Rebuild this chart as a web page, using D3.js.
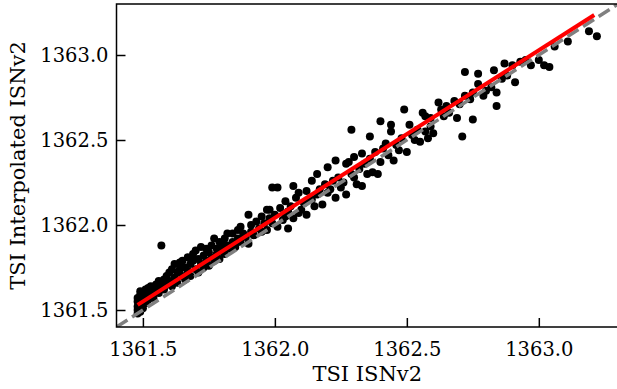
<!DOCTYPE html>
<html>
<head>
<meta charset="utf-8">
<script src="https://cdn.jsdelivr.net/npm/d3@7"></script>
<style>
    body { margin: 0; background: #fff; }
    svg text { font-family: "DejaVu Serif", serif; fill: #000; }
</style>
</head>
<body>
<div id="chart"></div>
<script>

// TSI ISNv2 vs interpolated
var tsiIsn = [
    1361.48,1361.48,1361.48,1361.48,1361.48,1361.49,1361.49,1361.49,1361.49,1361.50,1361.50,1361.50,1361.51,1361.51,1361.51,1361.52,1361.52,1361.52,1361.53,1361.53,
    1361.54,1361.54,1361.55,1361.55,1361.56,1361.56,1361.57,1361.57,1361.58,1361.58,1361.59,1361.59,1361.60,1361.60,1361.61,1361.61,1361.62,1361.62,
    1361.63,1361.63,1361.64,1361.64,1361.65,1361.65,1361.66,1361.66,1361.67,1361.67,1361.68,1361.68,1361.69,1361.69,1361.70,1361.70,1361.71,1361.71,
    1361.72,1361.72,1361.73,1361.73,1361.74,1361.74,1361.75,1361.75,1361.76,1361.76,1361.77,1361.77,1361.78,1361.78,1361.79,1361.79,1361.80,1361.80,
    1361.81,1361.81,1361.82,1361.82,1361.83,1361.84,1361.84,1361.85,1361.86,1361.86,1361.87,1361.87,1361.88,1361.89,1361.90,1361.90,1361.91,1361.91,
    1361.92,1361.93,1361.94,1361.95,1361.95,1361.96,1361.97,1361.97,1361.98,1361.98,1361.99,1361.99,
    1362.00,1362.01,1362.01,1362.02,1362.03,1362.04,1362.04,1362.05,1362.05,1362.06,1362.07,1362.07,1362.08,1362.09,1362.09,1362.10,1362.11,1362.12,
    1362.12,1362.13,1362.14,1362.14,1362.15,1362.16,1362.16,1362.17,1362.18,1362.19,1362.20,1362.20,1362.21,1362.22,1362.23,1362.23,1362.24,1362.25,
    1362.26,1362.27,1362.27,1362.28,1362.29,1362.29,1362.30,1362.30,
    1362.31,1362.32,1362.33,1362.33,1362.34,1362.35,1362.36,1362.36,1362.37,1362.38,1362.39,1362.40,1362.40,1362.41,1362.42,1362.43,1362.44,1362.44,
    1362.45,1362.46,1362.47,1362.48,1362.49,1362.50,1362.51,1362.52,1362.53,1362.54,1362.55,1362.56,1362.57,1362.57,1362.58,1362.59,1362.59,1362.60,
    1362.62,1362.63,1362.64,1362.65,1362.66,1362.68,1362.69,1362.70,1362.71,1362.72,1362.72,1362.74,1362.75,1362.75,1362.77,1362.77,1362.79,1362.80,
    1362.82,1362.83,1362.84,1362.84,1362.86,1362.87,1362.88,1362.90,1362.91,
    1362.93,1362.95,1362.97,1363.00,1363.02,1363.04,1363.06,1363.11,1363.19,1363.22
];
var tsiInterp = [
    1361.48,1361.50,1361.52,1361.55,1361.57,1361.49,1361.53,1361.59,1361.61,1361.51,1361.56,1361.60,1361.54,1361.58,1361.62,1361.56,1361.60,1361.63,1361.58,1361.64,
    1361.61,1361.57,1361.65,1361.62,1361.60,1361.67,1361.64,1361.88,1361.68,1361.62,1361.70,1361.65,1361.72,1361.67,1361.64,1361.74,1361.69,1361.77,
    1361.72,1361.66,1361.78,1361.74,1361.70,1361.79,1361.75,1361.68,1361.81,1361.73,1361.77,1361.70,1361.83,1361.79,1361.74,1361.85,1361.80,1361.72,
    1361.87,1361.77,1361.82,1361.75,1361.86,1361.79,1361.84,1361.76,1361.88,1361.81,1361.92,1361.79,1361.86,1361.83,1361.90,1361.80,1361.89,1361.85,
    1361.83,1361.92,1361.88,1361.95,1361.86,1361.95,1361.90,1361.87,1361.97,1361.92,1361.99,1361.90,1361.95,1361.93,1362.06,1361.89,1362.00,1361.96,
    1361.94,1362.02,1361.98,1362.05,1361.96,1362.01,1362.09,1361.97,1362.04,1362.09,1362.22,1362.01,
    1362.06,1361.99,1362.22,1362.10,1362.03,1362.05,1362.14,1361.98,1362.08,1362.11,1362.23,1362.04,1362.16,1362.19,1362.07,1362.09,1362.13,1362.20,
    1362.06,1362.15,1362.26,1362.15,1362.11,1362.30,1362.18,1362.21,1362.12,1362.24,1362.34,1362.19,1362.21,1362.26,1362.38,1362.16,1362.28,1362.22,
    1362.25,1362.18,1362.36,1362.37,1362.56,1362.30,1362.28,1362.40,
    1362.24,1362.33,1362.42,1362.23,1362.36,1362.30,1362.52,1362.39,1362.31,1362.43,1362.30,1362.61,1362.37,1362.45,1362.48,1362.41,1362.59,1362.55,
    1362.38,1362.47,1362.44,1362.51,1362.68,1362.43,1362.59,1362.53,1362.50,1362.56,1362.49,1362.66,1362.55,1362.64,1362.51,1362.63,1362.58,1362.54,
    1362.72,1362.68,1362.64,1362.70,1362.66,1362.73,1362.63,1362.71,1362.52,1362.90,1362.76,1362.74,1362.62,1362.78,1362.89,1362.83,1362.76,1362.79,
    1362.81,1362.91,1362.78,1362.70,1362.86,1362.95,1362.88,1362.94,1362.84,
    1362.96,1362.97,1362.94,1362.97,1362.94,1362.93,1363.05,1363.08,1363.14,1363.11
];

// linear fit (red) end points and the 1:1 reference (grey dashed)
var fitX = [1361.48, 1363.21];
var fitY = [1361.53, 1363.235];
var oneToOne = [1361.40, 1363.30];

var xTicks = [1361.5, 1362.0, 1362.5, 1363.0];
var yTicks = [1361.5, 1362.0, 1362.5, 1363.0];

var margin = {top: 4, right: -1, bottom: 62, left: 116.5},
    width = 617 - margin.left - margin.right,
    height = 389 - margin.top - margin.bottom;

var svg = d3.select("#chart").append("svg")
    .attr("width", 617)
    .attr("height", 389);

svg.append("defs").append("clipPath")
    .attr("id", "clip")
    .append("rect")
    .attr("width", width)
    .attr("height", height);

var focus = svg.append("g")
    .attr("transform", "translate(" + margin.left + "," + margin.top + ")");

var x = d3.scaleLinear().domain(oneToOne).range([0, width]);
var y = d3.scaleLinear().domain(oneToOne).range([height, 0]);

var points = tsiIsn.map(function(d, i) { return {x: d, y: tsiInterp[i]}; });

var plot = focus.append("g").attr("clip-path", "url(#clip)");

// scatter
plot.selectAll(".dot")
    .data(points)
    .enter().append("circle")
    .attr("class", "dot")
    .attr("cx", function(d) { return x(d.x); })
    .attr("cy", function(d) { return y(d.y); })
    .attr("r", 4)
    .attr("fill", "#000");

var line = d3.line()
    .x(function(d) { return x(d[0]); })
    .y(function(d) { return y(d[1]); });

// 1:1 line
plot.append("path")
    .datum([[oneToOne[0], oneToOne[0]], [oneToOne[1], oneToOne[1]]])
    .attr("fill", "none")
    .attr("stroke", "#808080")
    .attr("stroke-width", 3.5)
    .attr("stroke-dasharray", "13,5.5")
    .attr("d", line);

// fit
plot.append("path")
    .datum([[fitX[0], fitY[0]], [fitX[1], fitY[1]]])
    .attr("fill", "none")
    .attr("stroke", "#ff0000")
    .attr("stroke-width", 4)
    .attr("d", line);

// frame
focus.append("rect")
    .attr("width", width)
    .attr("height", height)
    .attr("fill", "none")
    .attr("stroke", "#000")
    .attr("stroke-width", 1.5);

// axes, ticks pointing in
var xAxis = d3.axisBottom(x).tickValues(xTicks).tickFormat(d3.format(".1f"))
    .tickSizeInner(-9).tickSizeOuter(0).tickPadding(15);
var yAxis = d3.axisLeft(y).tickValues(yTicks).tickFormat(d3.format(".1f"))
    .tickSizeInner(-9).tickSizeOuter(0).tickPadding(8);

var gx = focus.append("g")
    .attr("class", "x-axis axis")
    .attr("transform", "translate(0," + height + ")")
    .call(xAxis);
var gy = focus.append("g")
    .attr("class", "y-axis axis")
    .call(yAxis);

[gx, gy].forEach(function(g) {
    g.select(".domain").remove();
    g.selectAll(".tick line").attr("stroke", "#000").attr("stroke-width", 1.5);
    g.selectAll(".tick text")
        .attr("font-size", 19.5)
        .style("font-family", "DejaVu Serif");
});

// labels
svg.append("text")
    .attr("x", margin.left + width / 2)
    .attr("y", 381)
    .attr("text-anchor", "middle")
    .attr("font-size", 21)
    .text("TSI ISNv2");

svg.append("text")
    .attr("transform", "translate(25," + (margin.top + height / 2) + ") rotate(-90)")
    .attr("text-anchor", "middle")
    .attr("font-size", 21)
    .text("TSI Interpolated ISNv2");

</script>
</body>
</html>
